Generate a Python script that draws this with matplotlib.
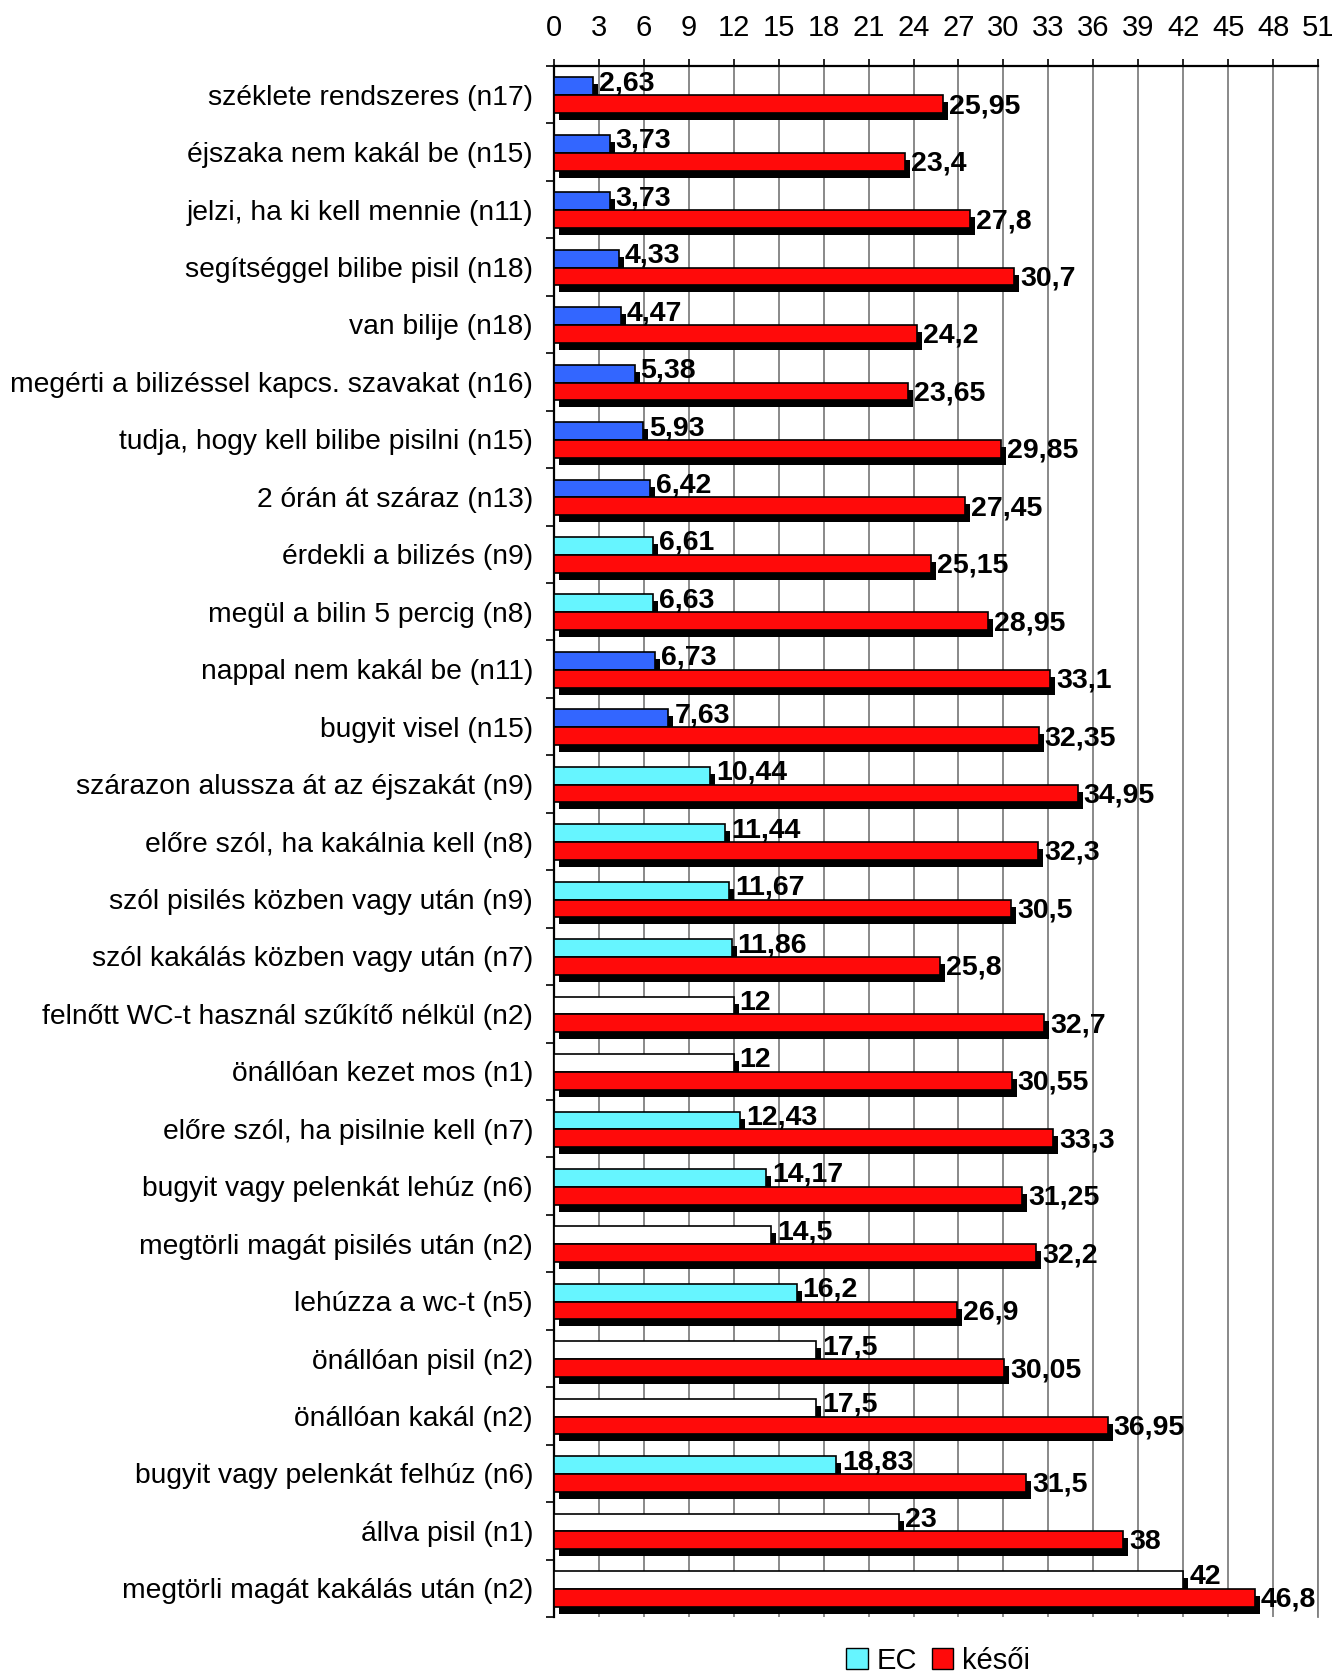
import matplotlib
matplotlib.use("Agg")
import matplotlib.pyplot as plt
import matplotlib.transforms as mtransforms
from matplotlib.patches import Patch
import numpy as np

plt.rcParams['font.family'] = ['Liberation Sans', 'DejaVu Sans']

# skill names, sample size n, mean age (months) for EC group and late group
skills = [
    "széklete rendszeres", "éjszaka nem kakál be", "jelzi, ha ki kell mennie",
    "segítséggel bilibe pisil", "van bilije", "megérti a bilizéssel kapcs. szavakat",
    "tudja, hogy kell bilibe pisilni", "2 órán át száraz", "érdekli a bilizés",
    "megül a bilin 5 percig", "nappal nem kakál be", "bugyit visel",
    "szárazon alussza át az éjszakát", "előre szól, ha kakálnia kell",
    "szól pisilés közben vagy után", "szól kakálás közben vagy után",
    "felnőtt WC-t használ szűkítő nélkül", "önállóan kezet mos",
    "előre szól, ha pisilnie kell", "bugyit vagy pelenkát lehúz",
    "megtörli magát pisilés után", "lehúzza a wc-t", "önállóan pisil",
    "önállóan kakál", "bugyit vagy pelenkát felhúz", "állva pisil",
    "megtörli magát kakálás után",
]
n_ec = [17, 15, 11, 18, 18, 16, 15, 13, 9, 8, 11, 15, 9, 8, 9, 7, 2, 1, 7, 6, 2, 5, 2, 2, 6, 1, 2]
ec = [2.63, 3.73, 3.73, 4.33, 4.47, 5.38, 5.93, 6.42, 6.61, 6.63, 6.73, 7.63,
      10.44, 11.44, 11.67, 11.86, 12, 12, 12.43, 14.17, 14.5, 16.2, 17.5, 17.5,
      18.83, 23, 42]
late = [25.95, 23.4, 27.8, 30.7, 24.2, 23.65, 29.85, 27.45, 25.15, 28.95, 33.1,
        32.35, 34.95, 32.3, 30.5, 25.8, 32.7, 30.55, 33.3, 31.25, 32.2, 26.9,
        30.05, 36.95, 31.5, 38, 46.8]
x_ticks = list(range(0, 52, 3))


def ec_color(n):
    # colour of the EC bar depends on the sample size
    if n >= 10:
        return "#3366FF"
    if n >= 3:
        return "#66F5FF"
    return "white"


def fmt(v):
    return f"{v:g}".replace(".", ",")


fig = plt.figure(figsize=(13.4, 16.79), dpi=100)
ax = fig.add_axes([0.4134, 0.0369, 0.5702, 0.9238])

y = np.arange(len(skills))
h = 0.31
y_ec = y - 0.145
y_late = y + 0.165
colors = [ec_color(n) for n in n_ec]

# black drop shadow behind every bar
shadow = mtransforms.offset_copy(ax.transData, fig=fig, x=5, y=-7, units='dots')
ax.barh(y_late, late, height=h, color="black", transform=shadow, zorder=2)
ax.barh(y_ec, ec, height=h, color="black", transform=shadow, zorder=2)

ax.barh(y_ec, ec, height=h, color=colors, edgecolor="black", linewidth=1.2, zorder=3)
ax.barh(y_late, late, height=h, color="#FF0A0A", edgecolor="black", linewidth=1.2, zorder=4)

for yi, v in zip(y_ec, ec):
    ax.annotate(fmt(v), (v, yi), xytext=(6, 3), textcoords="offset pixels",
                ha="left", va="center", fontsize=20.5, fontweight="bold", zorder=5)
for yi, v in zip(y_late, late):
    ax.annotate(fmt(v), (v, yi), xytext=(6, -2), textcoords="offset pixels",
                ha="left", va="center", fontsize=20.5, fontweight="bold", zorder=5)

ax.set_xlim(0, 51)
ax.set_ylim(len(skills) - 0.5, -0.5)
ax.xaxis.tick_top()
ax.set_xticks(x_ticks)
ax.set_xticklabels([str(t) for t in x_ticks],
                   family=['Liberation Sans Narrow', 'Liberation Sans'], fontsize=21)
ax.tick_params(axis="x", direction="out", length=5, width=1.2, pad=12)
ax.grid(axis="x", color="#808080", linewidth=1.3, zorder=0)
ax.set_axisbelow(True)

ax.set_yticks(y)
ax.set_yticklabels([f"{s} (n{n})" for s, n in zip(skills, n_ec)], fontsize=20.3)
ax.set_yticks(np.arange(len(skills) + 1) - 0.5, minor=True)
ax.tick_params(axis="y", which="major", length=0, pad=15)
ax.tick_params(axis="y", which="minor", direction="out", length=6, width=1.2)

for side in ["top", "left"]:
    ax.spines[side].set_linewidth(1.6)
ax.spines["bottom"].set_visible(False)
ax.spines["right"].set_color("#808080")
ax.spines["right"].set_linewidth(1.3)

handles = [Patch(facecolor="#66F5FF", edgecolor="black", label="EC"),
           Patch(facecolor="#FF0A0A", edgecolor="black", label="késői")]
fig.legend(handles=handles, loc="center", bbox_to_anchor=(0.70, 0.011), ncol=2,
           frameon=False, fontsize=21, handlelength=0.75, handleheight=0.75,
           handletextpad=0.3, columnspacing=0.5)

fig.savefig("out.png", dpi=100)
